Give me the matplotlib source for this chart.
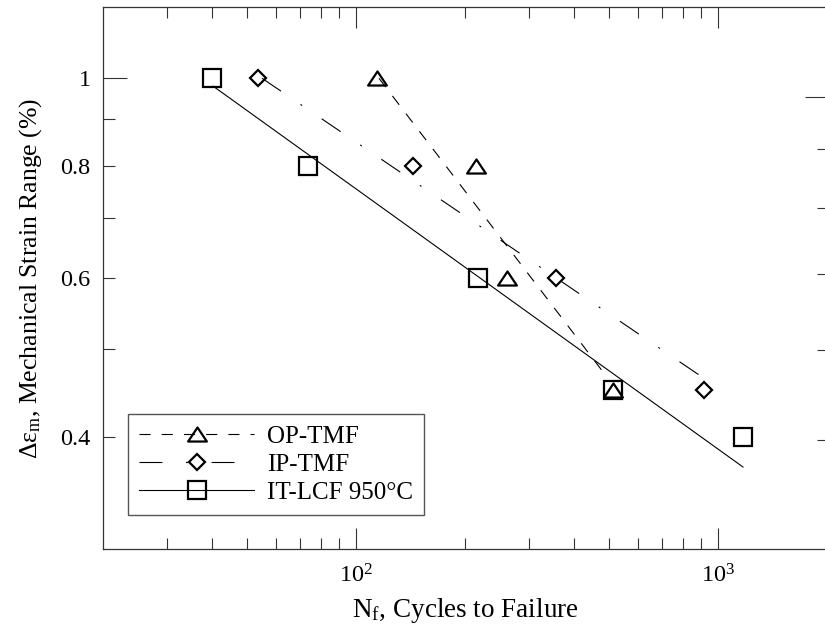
import numpy as np
import matplotlib
matplotlib.use("Agg")
import matplotlib.pyplot as plt
from matplotlib.path import Path
from matplotlib.legend_handler import HandlerTuple

plt.rcParams["font.family"] = "Liberation Serif"
plt.rcParams["mathtext.fontset"] = "custom"
plt.rcParams["mathtext.rm"] = "Liberation Serif"
plt.rcParams["mathtext.it"] = "Liberation Serif:italic"
plt.rcParams["lines.scale_dashes"] = False

# measured points
op_n = [114, 215, 261, 513]
op_strain = [1.0, 0.8, 0.6, 0.45]
ip_n = [53.5, 144, 357, 914]
ip_strain = [1.0, 0.8, 0.6, 0.45]
lcf_n = [40, 73.6, 217, 513, 1173]
lcf_strain = [1.0, 0.8, 0.6, 0.45, 0.4]

# fitted lines (end points)
op_fit_n = [115.7, 481]
op_fit_strain = [1.0, 0.472]
ip_fit_n = [55, 909]
ip_fit_strain = [1.0, 0.465]
lcf_fit_n = [40.3, 1172]
lcf_fit_strain = [0.98, 0.37]

labels = ["OP-TMF", "IP-TMF", "IT-LCF 950\u00b0C"]

tri = Path([(-1, -0.75), (1, -0.75), (0, 0.75), (-1, -0.75)],
           [Path.MOVETO, Path.LINETO, Path.LINETO, Path.CLOSEPOLY])

fig = plt.figure(figsize=(8.25, 6.32), dpi=100)
ax = fig.add_axes([103 / 825, 83 / 632, 724 / 825, 542 / 632])

lw = 0.8
op_line, = ax.plot(op_fit_n, op_fit_strain, color="black", lw=lw,
                   dashes=(8, 8))
ip_line, = ax.plot(ip_fit_n, ip_fit_strain, color="black", lw=lw,
                   dashes=(16.5, 17, 1.4, 17))
lcf_line, = ax.plot(lcf_fit_n, lcf_fit_strain, color="black", lw=lw)

mk = dict(color="black", linestyle="none", fillstyle="none", mew=1.6)
op_pts, = ax.plot(op_n, op_strain, marker=tri, ms=13.5, **mk)
ip_pts, = ax.plot(ip_n, ip_strain, marker="D", ms=8.5, **mk)
lcf_pts, = ax.plot(lcf_n, lcf_strain, marker="s", ms=13, **mk)

ax.set_xscale("log")
ax.set_yscale("log")
ax.set_xlim(20, 2000)
ax.set_ylim(0.3, 1.2)

ax.set_xticks([100, 1000])
ax.set_xticklabels([r"$10^2$", r"$10^3$"])
ax.set_xticks([30, 40, 50, 60, 70, 80, 90,
               200, 300, 400, 500, 600, 700, 800, 900], minor=True)
ax.set_xticklabels([], minor=True)

ax.set_yticks([1.0])
ax.set_yticklabels(["1"])
ax.set_yticks([0.4, 0.5, 0.6, 0.7, 0.8, 0.9], minor=True)
ax.set_yticklabels(["0.4", "", "0.6", "", "0.8", ""], minor=True)

ax.tick_params(axis="x", which="both", direction="in", top=True,
               bottom=True, color="#333333", labelsize=17.5, pad=11)
ax.tick_params(axis="x", which="major", length=15, width=0.8)
ax.tick_params(axis="x", which="minor", length=8, width=0.8)
ax.tick_params(axis="y", which="both", direction="in", left=True,
               right=False, color="#333333", labelsize=17.5, pad=9)
ax.tick_params(axis="y", which="major", length=17, width=0.8)
ax.tick_params(axis="y", which="minor", length=8.6, width=0.8)

for s in ax.spines.values():
    s.set_color("#333333")
    s.set_linewidth(0.9)

# right-hand axis ticks (scale does not match the left one)
ax2 = ax.twinx()
ax2.set_yscale("log")
ax2.set_ylim(0.4014, 1.2)
ax2.set_yticks([1.0])
ax2.set_yticks([0.5, 0.6, 0.7, 0.8, 0.9], minor=True)
ax2.set_yticklabels([])
ax2.set_yticklabels([], minor=True)
ax2.tick_params(axis="y", which="both", direction="in", color="#333333",
                width=0.8)
ax2.tick_params(axis="y", which="major", length=16)
ax2.tick_params(axis="y", which="minor", length=7)
for s in ax2.spines.values():
    s.set_visible(False)

ax.set_xlabel(r"N$_\mathregular{f}$, Cycles to Failure", fontsize=19.5,
              labelpad=6)
ax.set_ylabel("\u0394\u03b5$_\\mathregular{m}$, Mechanical Strain Range (%)",
              fontsize=18.5, labelpad=12)

leg = ax.legend([(op_line, op_pts), (ip_line, ip_pts), (lcf_line, lcf_pts)],
                labels, handler_map={tuple: HandlerTuple(ndivide=1)},
                loc="lower left", bbox_to_anchor=(0.0345, 0.0627),
                fontsize=18, handlelength=4.6, handletextpad=0.5,
                labelspacing=0.22, borderpad=0.45, borderaxespad=0,
                fancybox=False, framealpha=1, edgecolor="#555555")
leg.get_frame().set_linewidth(1.0)

fig.savefig("out.png", dpi=100)
